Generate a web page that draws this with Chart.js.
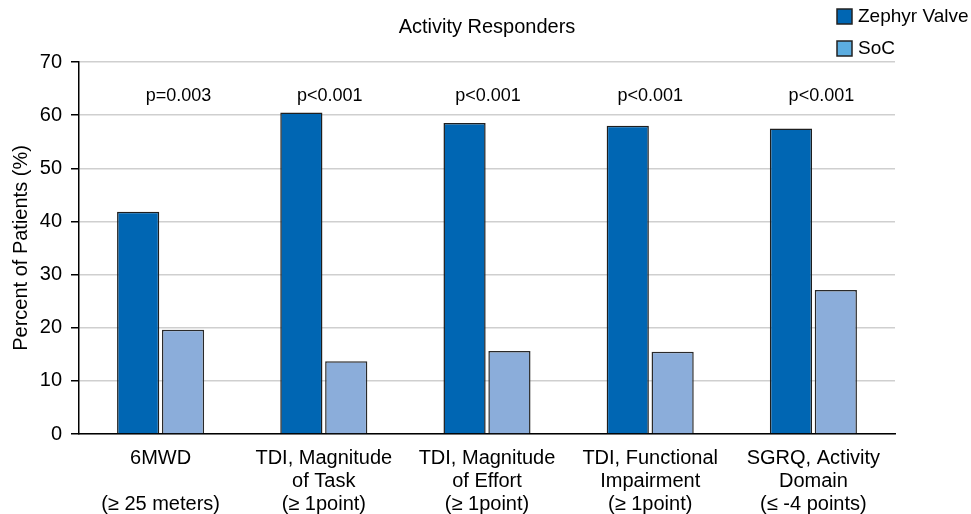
<!DOCTYPE html>
<html lang="en">
<head>
    <meta charset="UTF-8">
    <title>Activity Responders</title>
    <script src="https://cdn.jsdelivr.net/npm/chart.js"></script>
    <style>
        html, body { margin: 0; padding: 0; background: #fff; }
        #wrap { width: 971px; height: 514px; }
    </style>
</head>
<body>
    <div id="wrap"><canvas id="respondersChart"></canvas></div>

    <script>
        // data
        const categories = [
            ['6MWD', '', '(\u2265 25 meters)'],
            ['TDI, Magnitude', 'of Task', '(\u2265 1point)'],
            ['TDI, Magnitude', 'of Effort', '(\u2265 1point)'],
            ['TDI, Functional', 'Impairment', '(\u2265 1point)'],
            ['SGRQ, Activity', 'Domain', '(\u2264 -4 points)']
        ];
        const zephyrValues = [41.8, 60.5, 58.5, 58.0, 57.5];
        const socValues = [19.6, 13.7, 15.6, 15.5, 27.1];
        const pValues = ['p=0.003', 'p<0.001', 'p<0.001', 'p<0.001', 'p<0.001'];
        const yTicks = [0, 10, 20, 30, 40, 50, 60, 70];

        const FONT = '"Liberation Sans", Arial, Helvetica, sans-serif';

        // title, p-value labels and the legend box in the top right corner
        const extras = {
            id: 'extras',
            afterDraw(chart) {
                const ctx = chart.ctx;
                const area = chart.chartArea;
                const x = chart.scales.x;
                ctx.save();
                ctx.fillStyle = '#000';
                ctx.textBaseline = 'middle';

                ctx.font = '20px ' + FONT;
                ctx.textAlign = 'center';
                ctx.fillText('Activity Responders', (area.left + area.right) / 2, 27);

                // small nudges so labels sit like in the figure
                const shift = [18, 6, 1, 0, 8];
                ctx.font = '18px ' + FONT;
                pValues.forEach((p, i) => {
                    ctx.fillText(p, x.getPixelForValue(i) + shift[i], area.top + 34);
                });

                ctx.textAlign = 'left';
                ctx.font = '19px ' + FONT;
                const swatches = [
                    { label: 'Zephyr Valve', color: '#0066b3', y: 9 },
                    { label: 'SoC', color: '#5cade0', y: 41 }
                ];
                swatches.forEach(s => {
                    ctx.fillStyle = s.color;
                    ctx.fillRect(837, s.y, 15, 15);
                    ctx.strokeStyle = '#222';
                    ctx.lineWidth = 1.5;
                    ctx.strokeRect(837, s.y, 15, 15);
                    ctx.fillStyle = '#000';
                    ctx.fillText(s.label, 858, s.y + 8);
                });
                ctx.restore();
            }
        };

        const respondersChart = new Chart(document.getElementById('respondersChart'), {
            type: 'bar',
            data: {
                labels: categories,
                datasets: [{
                    label: 'Zephyr Valve',
                    data: zephyrValues,
                    backgroundColor: '#0066b3',
                    borderColor: '#1e1e1e',
                    borderWidth: 1.5,
                    categoryPercentage: 0.55,
                    barPercentage: 0.94
                }, {
                    label: 'SoC',
                    data: socValues,
                    backgroundColor: '#8badda',
                    borderColor: '#2a2a2a',
                    borderWidth: 1.5,
                    categoryPercentage: 0.55,
                    barPercentage: 0.94
                }]
            },
            options: {
                responsive: true,
                maintainAspectRatio: false,
                animation: false,
                layout: { padding: { top: 62, right: 76, left: 0, bottom: 0 } },
                plugins: {
                    legend: { display: false },
                    title: { display: false },
                    tooltip: { enabled: false }
                },
                scales: {
                    x: {
                        grid: { display: true, color: 'rgba(0,0,0,0)', drawTicks: false },
                        border: { display: true, color: '#000', width: 1.5 },
                        ticks: {
                            color: '#000',
                            padding: 13,
                            maxRotation: 0,
                            autoSkip: false,
                            font: { family: FONT, size: 20, lineHeight: 1.15 }
                        },
                        afterFit(scale) { scale.height = 80; }
                    },
                    y: {
                        min: 0,
                        max: 70,
                        afterBuildTicks(scale) { scale.ticks = yTicks.map(v => ({ value: v })); },
                        grid: { color: '#cfcfcf', lineWidth: 1.5, tickColor: '#000', tickLength: 8 },
                        border: { display: true, color: '#000', width: 1.5 },
                        ticks: {
                            color: '#000',
                            padding: 9,
                            font: { family: FONT, size: 20 }
                        },
                        title: {
                            display: true,
                            text: 'Percent of Patients (%)',
                            color: '#000',
                            padding: { top: 9, bottom: 0 },
                            font: { family: FONT, size: 20 }
                        },
                        afterFit(scale) { scale.width = 79; }
                    }
                }
            },
            plugins: [extras]
        });
    </script>
</body>
</html>
